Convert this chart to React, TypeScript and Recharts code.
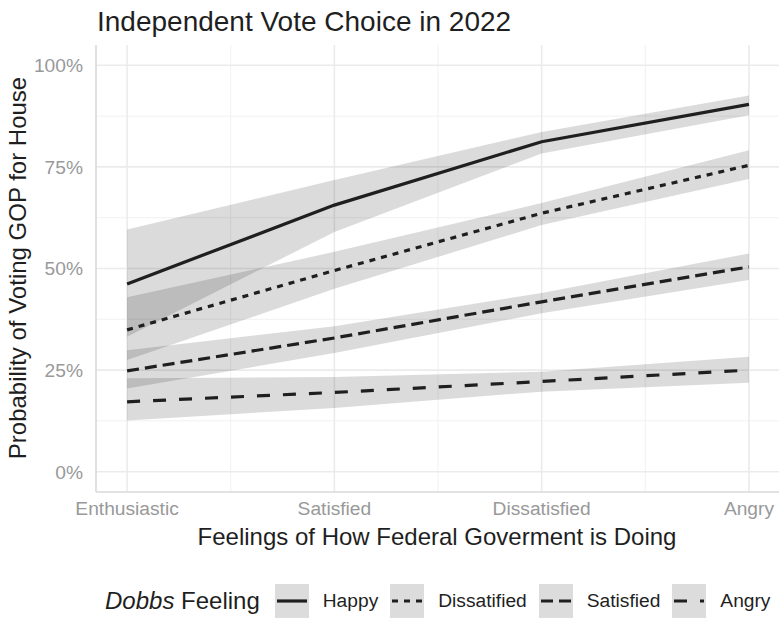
import { ComposedChart, Area, Line, XAxis, YAxis, CartesianGrid } from "recharts"

const categories = ["Enthusiastic", "Satisfied", "Dissatisfied", "Angry"]
const xPos = [1, 2, 3, 4]

const happy = [0.462, 0.656, 0.812, 0.904]
const happyLo = [0.332, 0.59, 0.783, 0.877]
const happyHi = [0.596, 0.718, 0.836, 0.926]

const dissat = [0.349, 0.495, 0.636, 0.754]
const dissatLo = [0.275, 0.45, 0.607, 0.72]
const dissatHi = [0.429, 0.541, 0.661, 0.791]

const sat = [0.248, 0.329, 0.418, 0.504]
const satLo = [0.205, 0.292, 0.39, 0.472]
const satHi = [0.299, 0.358, 0.44, 0.537]

const angry = [0.172, 0.195, 0.222, 0.25]
const angryLo = [0.126, 0.157, 0.197, 0.219]
const angryHi = [0.23, 0.233, 0.246, 0.283]

const yTicks = [0, 0.25, 0.5, 0.75, 1]
const yMinor = [0.125, 0.375, 0.625, 0.875]
const xMinor = [1.5, 2.5, 3.5]

const series = [
  { key: "happy", label: "Happy", dash: undefined as string | undefined },
  { key: "dissat", label: "Dissatified", dash: "6 6" },
  { key: "sat", label: "Satisfied", dash: "12 6" },
  { key: "angry", label: "Angry", dash: "13 13" },
]

const data = xPos.map((x, i) => ({
  x,
  happy: happy[i],
  happyBand: [happyLo[i], happyHi[i]],
  dissat: dissat[i],
  dissatBand: [dissatLo[i], dissatHi[i]],
  sat: sat[i],
  satBand: [satLo[i], satHi[i]],
  angry: angry[i],
  angryBand: [angryLo[i], angryHi[i]],
}))

const font = "'Liberation Sans', Arial, Helvetica, sans-serif"
const ink = "#1f1f1f"
const tickGrey = "#999999"

function XTick(props: any) {
  const { x, y, payload } = props
  return (
    <text x={x} y={y + 15} textAnchor="middle" fontSize={19.2} fill={tickGrey} fontFamily={font}>
      {categories[payload.value - 1]}
    </text>
  )
}

function YTick(props: any) {
  const { x, y, payload } = props
  return (
    <text x={x - 5} y={y} dy="0.36em" textAnchor="end" fontSize={19.2} fill={tickGrey} fontFamily={font}>
      {Math.round(payload.value * 100)}%
    </text>
  )
}

function LegendKey({ dash }: { dash?: string }) {
  return (
    <svg width={34} height={34} style={{ display: "block" }}>
      <rect x={0} y={0} width={34} height={34} fill="#dcdcdc" />
      <line x1={2} y1={17} x2={32} y2={17} stroke={ink} strokeWidth={3.2} strokeDasharray={dash} />
    </svg>
  )
}

export default function App() {
  return (
    <div style={{ position: "absolute", left: 0, top: 0, width: 779, height: 621, background: "#fff", fontFamily: font }}>
      <div style={{ position: "absolute", left: 97, top: 6, fontSize: 28, color: ink, whiteSpace: "nowrap" }}>
        Independent Vote Choice in 2022
      </div>
      <ComposedChart
        width={779}
        height={621}
        data={data}
        margin={{ top: 45, right: 0, bottom: 99, left: 0 }}
      >
        <CartesianGrid
          horizontalValues={yMinor}
          verticalValues={xMinor}
          stroke="#f1f1f1"
          strokeWidth={1}
        />
        <CartesianGrid
          horizontalValues={yTicks}
          verticalValues={xPos}
          stroke="#ebebeb"
          strokeWidth={1.6}
        />
        <XAxis
          type="number"
          dataKey="x"
          domain={[0.85, 4.145]}
          ticks={xPos}
          height={30}
          tick={<XTick />}
          tickLine={false}
          axisLine={{ stroke: "#d9d9d9", strokeWidth: 1.6 }}
          allowDataOverflow
        />
        <YAxis
          type="number"
          domain={[-0.05, 1.05]}
          ticks={yTicks}
          width={96}
          tick={<YTick />}
          tickLine={false}
          axisLine={{ stroke: "#d9d9d9", strokeWidth: 1.6 }}
          allowDataOverflow
        />
        {series.map((s) => (
          <Area
            key={s.key + "Band"}
            type="linear"
            dataKey={s.key + "Band"}
            stroke="none"
            fill="#000"
            fillOpacity={0.14}
            isAnimationActive={false}
            dot={false}
            activeDot={false}
          />
        ))}
        {series.map((s) => (
          <Line
            key={s.key}
            type="linear"
            dataKey={s.key}
            stroke={ink}
            strokeWidth={3.2}
            strokeDasharray={s.dash}
            dot={false}
            activeDot={false}
            isAnimationActive={false}
          />
        ))}
      </ComposedChart>
      <div
        style={{
          position: "absolute",
          left: 18,
          top: 268,
          transform: "translate(-50%, -50%) rotate(-90deg)",
          fontSize: 24,
          color: ink,
          whiteSpace: "nowrap",
        }}
      >
        Probability of Voting GOP for House
      </div>
      <div
        style={{
          position: "absolute",
          left: 437,
          top: 537,
          transform: "translate(-50%, -50%)",
          fontSize: 24,
          color: ink,
          whiteSpace: "nowrap",
        }}
      >
        Feelings of How Federal Goverment is Doing
      </div>
      <div
        style={{
          position: "absolute",
          left: 105,
          top: 584,
          height: 34,
          display: "flex",
          alignItems: "center",
          whiteSpace: "nowrap",
          color: ink,
        }}
      >
        <span style={{ fontSize: 24, marginRight: 15 }}>
          <i>Dobbs</i> Feeling
        </span>
        {series.map((s) => (
          <span key={s.key} style={{ display: "flex", alignItems: "center" }}>
            <LegendKey dash={s.dash} />
            <span style={{ fontSize: 19.2, marginLeft: 14, marginRight: 12 }}>{s.label}</span>
          </span>
        ))}
      </div>
    </div>
  )
}
